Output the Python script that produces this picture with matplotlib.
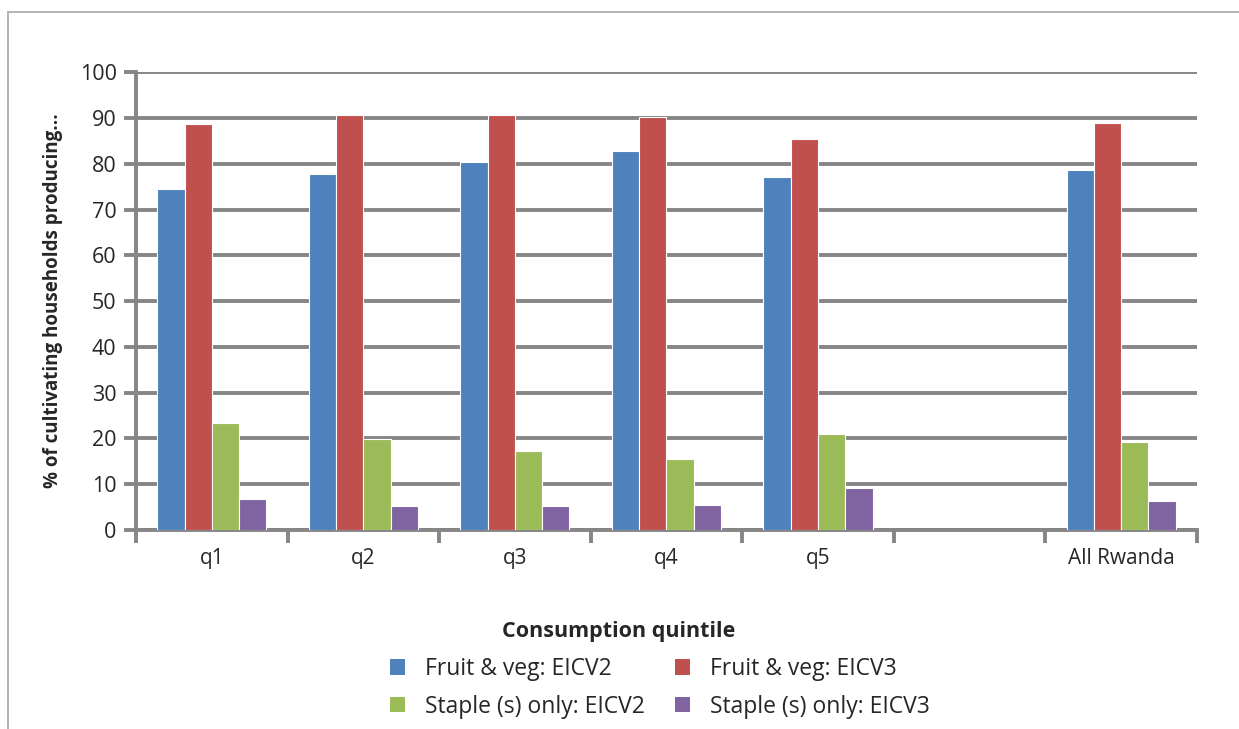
import numpy as np
import matplotlib
matplotlib.use('Agg')
import matplotlib.pyplot as plt
from matplotlib.patches import Rectangle, Patch

plt.rcParams['font.family'] = ['Open Sans', 'DejaVu Sans']

# categories (blank slot between q5 and All Rwanda as in the original)
categories = ['q1', 'q2', 'q3', 'q4', 'q5', '', 'All Rwanda']
fv_eicv2 = [74.5, 77.8, 80.3, 82.7, 77.0, np.nan, 78.6]
fv_eicv3 = [88.6, 90.7, 90.7, 90.3, 85.5, np.nan, 89.0]
st_eicv2 = [23.3, 19.9, 17.2, 15.6, 20.9, np.nan, 19.3]
st_eicv3 = [6.8, 5.2, 5.2, 5.5, 9.2, np.nan, 6.4]
series_names = ['Fruit & veg: EICV2', 'Fruit & veg: EICV3',
                'Staple (s) only: EICV2', 'Staple (s) only: EICV3']
colors = ['#4F81BD', '#C0504D', '#9BBB59', '#8064A2']

fig = plt.figure(figsize=(12.39, 7.29), dpi=100)
ax = fig.add_axes([0.1098, 0.273, 0.8562, 0.628])

# outer frame
fig.patches.append(Rectangle((8/1239, -0.1), 1.2, 1.1 - 12/729, transform=fig.transFigure,
                             fill=False, edgecolor='#A6A6A6', linewidth=1.2))

x = np.arange(len(categories))
w = 0.18
all_series = [fv_eicv2, fv_eicv3, st_eicv2, st_eicv3]
for i, (vals, c) in enumerate(zip(all_series, colors)):
    ax.bar(x + (i - 1.5) * w, vals, w, color=c, edgecolor='white', linewidth=0.8, zorder=3)

grid_c = '#868686'
ax.set_ylim(0, 100)
ax.set_xlim(-0.5, len(categories) - 0.5)
ax.set_yticks(np.arange(0, 101, 10))
ax.yaxis.grid(True, color=grid_c, linewidth=2.8, zorder=0)
ax.set_axisbelow(True)

ax.set_xticks(x)
ax.set_xticklabels(categories)
ax.set_xticks(np.arange(-0.5, len(categories), 1), minor=True)
ax.tick_params(axis='x', which='major', length=0, pad=13, labelsize=15, labelcolor='#262626')
ax.tick_params(axis='x', which='minor', length=9, width=2.8, color=grid_c)
ax.tick_params(axis='y', length=9, width=2.8, color=grid_c, labelsize=15.5, labelcolor='#262626', pad=5)

for s in ['top', 'right']:
    ax.spines[s].set_visible(False)
for s in ['left', 'bottom']:
    ax.spines[s].set_color(grid_c)
    ax.spines[s].set_linewidth(2.8)

ax.set_ylabel('% of cultivating households producing...', fontsize=13.5, fontweight='bold',
              color='#262626', labelpad=12)
fig.text(619/1239, 1 - 632/729, 'Consumption quintile', fontsize=15.5, fontweight='bold',
         color='#262626', ha='center', va='center')

# legend filled row by row: reorder for matplotlib's column-wise fill
order = [0, 2, 1, 3]
handles = [Patch(facecolor=colors[k], edgecolor='none') for k in order]
labels = [series_names[k] for k in order]
fig.legend(handles, labels, loc='center', bbox_to_anchor=(660/1239, 1 - 688/729),
           ncol=2, frameon=False, fontsize=16.5, handlelength=0.65, handleheight=0.65,
           columnspacing=1.3, handletextpad=0.9, labelspacing=0.6, labelcolor='#262626')

fig.savefig('out.png', dpi=100)
